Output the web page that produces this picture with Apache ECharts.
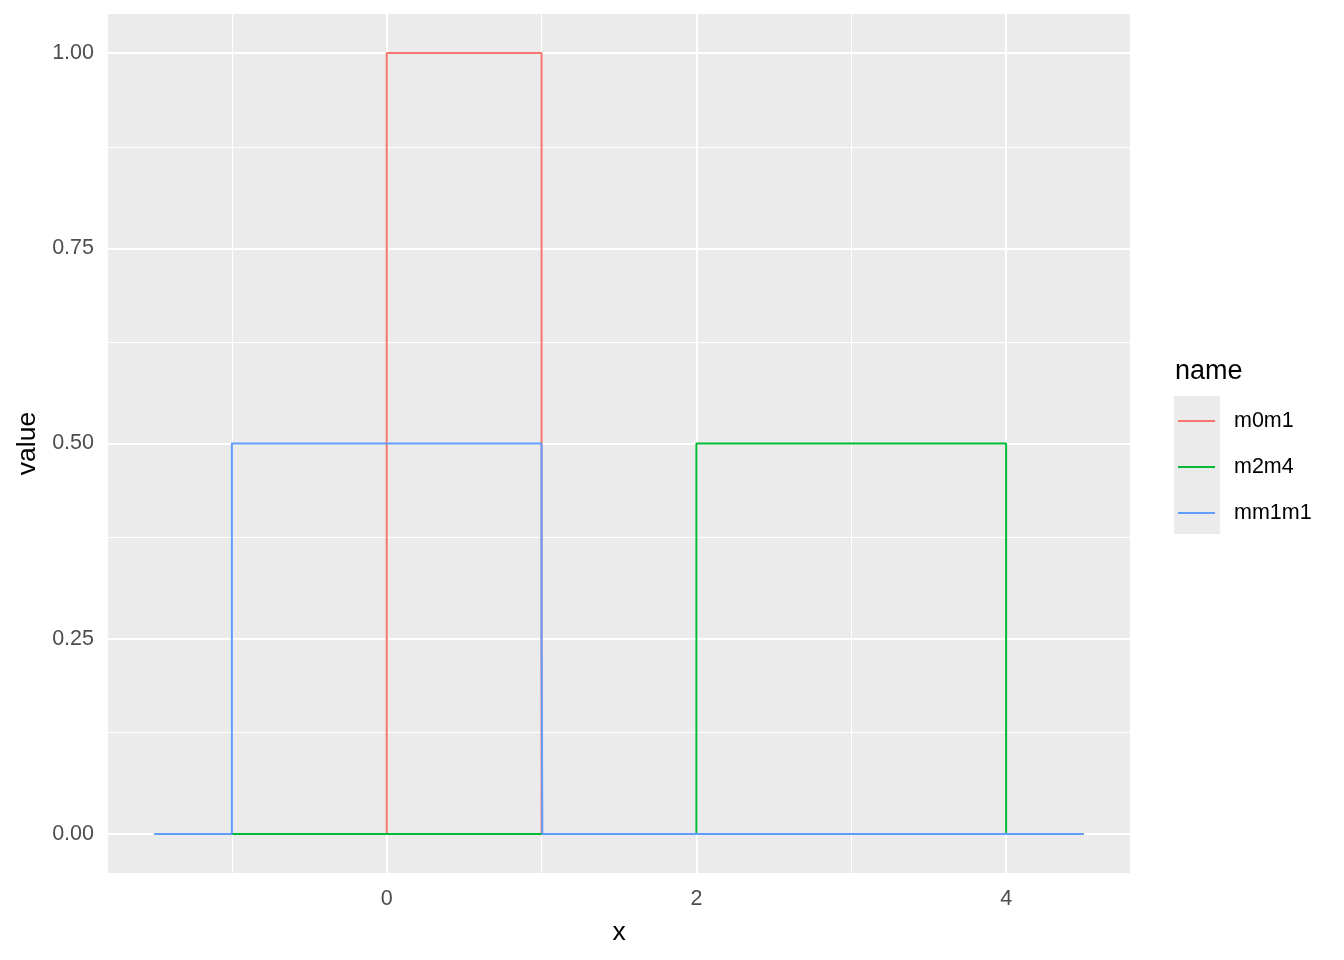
<!DOCTYPE html>
<html>
<head>
<meta charset="utf-8">
<script src="https://cdn.jsdelivr.net/npm/echarts@6/dist/echarts.min.js"></script>
<style>
  html, body { margin: 0; padding: 0; background: #ffffff; }
  #chart { width: 1344px; height: 960px; }
</style>
</head>
<body>
<div id="chart"></div>
<script>
// ---- data ----
const seriesNames = ['m0m1', 'm2m4', 'mm1m1'];
const m0m1 = [[-1.5, 0], [0, 0], [0, 1], [1, 1], [1, 0], [4.5, 0]];
const m2m4 = [[-1.5, 0], [2, 0], [2, 0.5], [4, 0.5], [4, 0], [4.5, 0]];
const mm1m1 = [[-1.5, 0], [-1, 0], [-1, 0.5], [1, 0.5], [1, 0.25], [1.005, 0.25], [1.005, 0], [4.5, 0]];
const xTicks = [0, 2, 4];
const xMinor = [-1, 1, 3];
const yTicks = [0, 0.25, 0.5, 0.75, 1];
const yMinor = [0.125, 0.375, 0.625, 0.875];
const xRange = [-1.8, 4.8];
const yRange = [-0.05, 1.05];

const colors = ['#F8766D', '#00BA38', '#619CFF'];
const FONT = 'Liberation Sans, Arial, sans-serif';

const chart = echarts.init(document.getElementById('chart'), null, { renderer: 'canvas' });

const gridLines = [];
xMinor.forEach(v => gridLines.push({ xAxis: v, lineStyle: { width: 1 } }));
yMinor.forEach(v => gridLines.push({ yAxis: v, lineStyle: { width: 1 } }));
xTicks.forEach(v => gridLines.push({ xAxis: v, lineStyle: { width: 2 } }));
yTicks.forEach(v => gridLines.push({ yAxis: v, lineStyle: { width: 2 } }));

const dataSets = [m0m1, m2m4, mm1m1];

const option = {
  animation: false,
  backgroundColor: '#ffffff',
  title: {
    text: 'name',
    left: 1175,
    top: 358,
    padding: 0,
    textStyle: { fontFamily: FONT, fontSize: 27, fontWeight: 'normal', color: '#000000', lineHeight: 27 }
  },
  graphic: [{
    type: 'rect',
    left: 1174, top: 396,
    shape: { width: 46, height: 138 },
    style: { fill: '#EBEBEB' },
    z: -1
  }],
  legend: {
    orient: 'vertical',
    left: 1178,
    top: 398,
    padding: 0,
    itemGap: 0,
    itemWidth: 37,
    itemHeight: 2,
    icon: 'rect',
    data: seriesNames,
    textStyle: { fontFamily: FONT, fontSize: 21.5, color: '#000000', lineHeight: 46, padding: [0, 0, 0, 14] }
  },
  grid: {
    left: 108, right: 214, top: 14, bottom: 87,
    show: true, backgroundColor: '#EBEBEB', borderWidth: 0
  },
  xAxis: {
    type: 'value',
    min: xRange[0], max: xRange[1],
    name: 'x',
    nameLocation: 'middle',
    nameGap: 46,
    nameTextStyle: { fontFamily: FONT, fontSize: 26.5, color: '#000000' },
    axisLine: { show: false },
    axisTick: { show: true, customValues: xTicks, length: 7, lineStyle: { color: '#333333', width: 1.5 } },
    axisLabel: { customValues: xTicks, margin: 15, fontFamily: FONT, fontSize: 21.5, color: '#4D4D4D' },
    splitLine: { show: false }
  },
  yAxis: {
    type: 'value',
    min: yRange[0], max: yRange[1],
    name: 'value',
    nameLocation: 'middle',
    nameRotate: 90,
    nameGap: 61,
    nameTextStyle: { fontFamily: FONT, fontSize: 26.5, color: '#000000' },
    axisLine: { show: false },
    axisTick: { show: true, customValues: yTicks, length: 7, lineStyle: { color: '#333333', width: 1.5 } },
    axisLabel: { customValues: yTicks, margin: 14, fontFamily: FONT, fontSize: 21.5, color: '#4D4D4D',
      formatter: v => Number(v).toFixed(2) },
    splitLine: { show: false }
  },
  series: [
    {
      name: '__grid',
      type: 'line',
      data: [],
      z: 1,
      silent: true,
      markLine: {
        silent: true,
        z: 1,
        symbol: ['none', 'none'],
        label: { show: false },
        lineStyle: { color: '#FFFFFF', type: 'solid' },
        emphasis: { disabled: true },
        animation: false,
        data: gridLines
      }
    }
  ].concat(seriesNames.map((n, i) => ({
    name: n,
    type: 'line',
    data: dataSets[i],
    showSymbol: false,
    symbol: 'none',
    z: 10 + i,
    color: colors[i],
    lineStyle: { width: 2, color: colors[i] },
    emphasis: { disabled: true }
  })))
};

chart.setOption(option);
</script>
</body>
</html>
